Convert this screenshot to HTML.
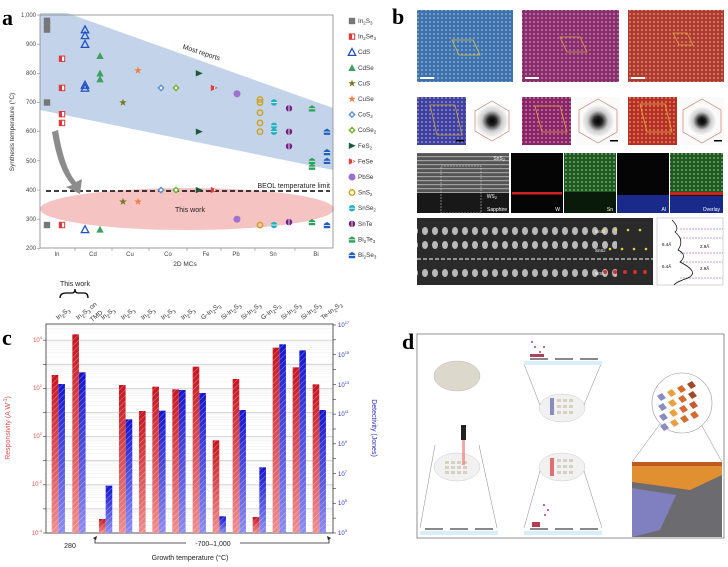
<!DOCTYPE html>
<html><head><meta charset="utf-8"><style>
body{margin:0;background:#fff;width:728px;height:567px;overflow:hidden}
svg{display:block;font-family:"Liberation Sans",sans-serif}
</style></head><body>
<svg id="s" width="728" height="567" viewBox="0 0 728 567" xmlns="http://www.w3.org/2000/svg">
<defs>
<pattern id="hr" width="4" height="4" patternUnits="userSpaceOnUse" patternTransform="rotate(45)"><rect width="4" height="4" fill="none"/><line x1="0" y1="0" x2="0" y2="4" stroke="#fff" stroke-opacity=".45" stroke-width="1"/></pattern>
<linearGradient id="rg" x1="0" y1="0" x2="0" y2="1"><stop offset="0" stop-color="#c8141e"/><stop offset="1" stop-color="#f08c8c"/></linearGradient>
<linearGradient id="bg" x1="0" y1="0" x2="0" y2="1"><stop offset="0" stop-color="#1414d0"/><stop offset="1" stop-color="#8c8cf0"/></linearGradient>
<radialGradient id="fft"><stop offset="0" stop-color="#000"/><stop offset=".25" stop-color="#222"/><stop offset=".6" stop-color="#ccc"/><stop offset="1" stop-color="#fff"/></radialGradient>
<pattern id="dots" width="4" height="4" patternUnits="userSpaceOnUse"><circle cx="2" cy="2" r="0.9" fill="#fff" fill-opacity=".5"/></pattern>
<pattern id="lines" width="4" height="4" patternUnits="userSpaceOnUse"><rect width="4" height="1.2" fill="#ddd" fill-opacity=".55"/></pattern>
<pattern id="col" width="10" height="14" patternUnits="userSpaceOnUse"><ellipse cx="5" cy="7" rx="3" ry="4" fill="#ddd" fill-opacity=".8"/></pattern>
</defs>

<!-- Panel a -->
<text x="2" y="25" font-family="Liberation Serif" font-weight="bold" font-size="22">a</text>
<polygon points="40,13 67,13 333,108 333,170 40,110" fill="#b8cde6" opacity=".85"/>
<ellipse cx="187" cy="209" rx="147" ry="21" fill="#f5b8b8" opacity=".85"/>
<rect x="40" y="15" width="293" height="233" fill="none" stroke="#888" stroke-width="0.8"/>
<line x1="46" y1="191" x2="330" y2="191" stroke="#000" stroke-width="1.5" stroke-dasharray="5,3"/>
<text x="330" y="188" font-size="7" text-anchor="end" fill="#222">BEOL temperature limit</text>
<text x="180" y="53" font-size="7" fill="#222" transform="rotate(18 195 58)">Most reports</text>
<text x="190" y="212" font-size="7" text-anchor="middle" fill="#222">This work</text>
<path d="M52,132 Q58,170 72,185 L66,187 L80,194 L82,179 L76,182 Q64,168 58,130 Z" fill="#8c8c8c"/>
<g font-size="6" fill="#444" text-anchor="end" id="ayt"></g>
<g font-size="6" fill="#444" text-anchor="middle">
<text x="57" y="256">In</text><text x="93" y="256">Cd</text><text x="130" y="256">Cu</text><text x="168" y="256">Co</text><text x="206" y="256">Fe</text><text x="236" y="256">Pb</text><text x="273" y="256">Sn</text><text x="316" y="256">Bi</text>
</g>
<text x="185" y="266" font-size="6.5" text-anchor="middle" fill="#333">2D MCs</text>
<text x="14" y="132" font-size="6.5" text-anchor="middle" fill="#333" transform="rotate(-90 14 132)">Synthesis temperature (°C)</text>
<g id="apts"></g>
<g font-size="6.3" fill="#333" id="leg">
<text x="358" y="23">In<tspan font-size="4.5" dy="1.5">2</tspan><tspan dy="-1.5">S</tspan><tspan font-size="4.5" dy="1.5">3</tspan></text>
<text x="358" y="38.6">In<tspan font-size="4.5" dy="1.5">2</tspan><tspan dy="-1.5">Se</tspan><tspan font-size="4.5" dy="1.5">3</tspan></text>
<text x="358" y="54.2">CdS</text>
<text x="358" y="69.8">CdSe</text>
<text x="358" y="85.4">CuS</text>
<text x="358" y="101">CuSe</text>
<text x="358" y="116.6">CoS<tspan font-size="4.5" dy="1.5">2</tspan></text>
<text x="358" y="132.2">CoSe<tspan font-size="4.5" dy="1.5">2</tspan></text>
<text x="358" y="147.8">FeS<tspan font-size="4.5" dy="1.5">2</tspan></text>
<text x="358" y="163.4">FeSe</text>
<text x="358" y="179">PbSe</text>
<text x="358" y="194.6">SnS<tspan font-size="4.5" dy="1.5">2</tspan></text>
<text x="358" y="210.2">SnSe<tspan font-size="4.5" dy="1.5">2</tspan></text>
<text x="358" y="225.8">SnTe</text>
<text x="358" y="241.4">Bi<tspan font-size="4.5" dy="1.5">2</tspan><tspan dy="-1.5">Te</tspan><tspan font-size="4.5" dy="1.5">3</tspan></text>
<text x="358" y="257">Bi<tspan font-size="4.5" dy="1.5">2</tspan><tspan dy="-1.5">Se</tspan><tspan font-size="4.5" dy="1.5">3</tspan></text>
</g>

<!-- Panel c -->
<text x="2" y="345" font-family="Liberation Serif" font-weight="bold" font-size="22">c</text>
<text x="75" y="286" font-size="7" text-anchor="middle" fill="#222">This work</text>
<path d="M60,298 Q60,293 66,293 L72,293 Q75,293 75,289 Q75,293 78,293 L84,293 Q88,293 88,298" fill="none" stroke="#000" stroke-width="1.3"/>
<g id="cgrid"></g>
<rect x="46" y="324" width="287" height="209" fill="none" stroke="#333" stroke-width="0.8"/>
<g id="cbars"></g>
<g font-size="6.5" fill="#333" id="ctop">
<text transform="translate(58,320) rotate(-38)">In<tspan font-size="5" dy="2">2</tspan><tspan dy="-2">S</tspan><tspan font-size="5" dy="2">3</tspan></text>
<text transform="translate(78,320) rotate(-38)">In<tspan font-size="5" dy="2">2</tspan><tspan dy="-2">S</tspan><tspan font-size="5" dy="2">3</tspan><tspan dy="-2"> on</tspan></text>
<text transform="translate(92,322) rotate(-38)">TMD</text>
<text transform="translate(103,320) rotate(-38)">In<tspan font-size="5" dy="2">2</tspan><tspan dy="-2">S</tspan><tspan font-size="5" dy="2">3</tspan></text>
<text transform="translate(123,320) rotate(-38)">In<tspan font-size="5" dy="2">2</tspan><tspan dy="-2">S</tspan><tspan font-size="5" dy="2">3</tspan></text>
<text transform="translate(143,320) rotate(-38)">In<tspan font-size="5" dy="2">2</tspan><tspan dy="-2">S</tspan><tspan font-size="5" dy="2">3</tspan></text>
<text transform="translate(163,320) rotate(-38)">In<tspan font-size="5" dy="2">2</tspan><tspan dy="-2">S</tspan><tspan font-size="5" dy="2">3</tspan></text>
<text transform="translate(183,320) rotate(-38)">In<tspan font-size="5" dy="2">2</tspan><tspan dy="-2">S</tspan><tspan font-size="5" dy="2">3</tspan></text>
<text transform="translate(203,320) rotate(-38)">G-In<tspan font-size="5" dy="2">2</tspan><tspan dy="-2">S</tspan><tspan font-size="5" dy="2">3</tspan></text>
<text transform="translate(223,320) rotate(-38)">Si-In<tspan font-size="5" dy="2">2</tspan><tspan dy="-2">S</tspan><tspan font-size="5" dy="2">3</tspan></text>
<text transform="translate(243,320) rotate(-38)">Si-In<tspan font-size="5" dy="2">2</tspan><tspan dy="-2">S</tspan><tspan font-size="5" dy="2">3</tspan></text>
<text transform="translate(263,320) rotate(-38)">G-In<tspan font-size="5" dy="2">2</tspan><tspan dy="-2">S</tspan><tspan font-size="5" dy="2">3</tspan></text>
<text transform="translate(283,320) rotate(-38)">Si-In<tspan font-size="5" dy="2">2</tspan><tspan dy="-2">S</tspan><tspan font-size="5" dy="2">3</tspan></text>
<text transform="translate(303,320) rotate(-38)">Si-In<tspan font-size="5" dy="2">2</tspan><tspan dy="-2">S</tspan><tspan font-size="5" dy="2">3</tspan></text>
<text transform="translate(323,320) rotate(-38)">Te-In<tspan font-size="5" dy="2">2</tspan><tspan dy="-2">S</tspan><tspan font-size="5" dy="2">3</tspan></text>
</g>
<g font-size="6" fill="#e05050" text-anchor="end">
<text x="42" y="342">10<tspan font-size="4" dy="-3">4</tspan></text>
<text x="42" y="390">10<tspan font-size="4" dy="-3">2</tspan></text>
<text x="42" y="438">10<tspan font-size="4" dy="-3">0</tspan></text>
<text x="42" y="486">10<tspan font-size="4" dy="-3">-2</tspan></text>
<text x="42" y="535">10<tspan font-size="4" dy="-3">-4</tspan></text>
</g>
<g font-size="6" fill="#3030c0">
<text x="338" y="327">10<tspan font-size="4" dy="-3">17</tspan></text>
<text x="338" y="357">10<tspan font-size="4" dy="-3">15</tspan></text>
<text x="338" y="387">10<tspan font-size="4" dy="-3">13</tspan></text>
<text x="338" y="416">10<tspan font-size="4" dy="-3">11</tspan></text>
<text x="338" y="446">10<tspan font-size="4" dy="-3">9</tspan></text>
<text x="338" y="476">10<tspan font-size="4" dy="-3">7</tspan></text>
<text x="338" y="505">10<tspan font-size="4" dy="-3">5</tspan></text>
<text x="338" y="535">10<tspan font-size="4" dy="-3">3</tspan></text>
</g>
<text x="10" y="428" font-size="7" fill="#e05050" text-anchor="middle" transform="rotate(-90 10 428)">Responsivity (A W<tspan font-size="5" dy="-3">-1</tspan><tspan dy="3">)</tspan></text>
<text x="372" y="428" font-size="7" fill="#3030c0" text-anchor="middle" transform="rotate(90 372 428)">Detectivity (Jones)</text>
<text x="70" y="548" font-size="7" text-anchor="middle" fill="#222">280</text>
<path d="M95,539 L95,543 L186,543 M240,543 L329,543 L329,539" fill="none" stroke="#222" stroke-width="0.8"/>
<path d="M93,538 L97,536 L96,540Z M331,538 L327,536 L328,540Z" fill="#222"/>
<text x="213" y="546" font-size="7" text-anchor="middle" fill="#222">-700–1,000</text>
<text x="190" y="560" font-size="7" text-anchor="middle" fill="#222">Growth temperature (°C)</text>

<!-- Panel b -->
<text x="392" y="24" font-family="Liberation Serif" font-weight="bold" font-size="22">b</text>
<rect x="417" y="10" width="96" height="72" fill="#3d72ae"/><rect x="417" y="10" width="96" height="72" fill="url(#dots)"/>
<rect x="522" y="10" width="97" height="72" fill="#8a2d6c"/><rect x="522" y="10" width="97" height="72" fill="url(#dots)"/>
<rect x="628" y="10" width="96" height="72" fill="#b03a2c"/><rect x="628" y="10" width="96" height="72" fill="url(#dots)"/>
<polygon points="452,40 473,40 480,55 459,55" fill="none" stroke="#d8c040" stroke-width="0.8"/>
<polygon points="560,37 580,37 587,52 567,52" fill="none" stroke="#d8a040" stroke-width="0.8"/>
<polygon points="673,33 687,33 693,45 679,45" fill="none" stroke="#e0a040" stroke-width="0.8"/>
<rect x="420" y="77" width="14" height="2" fill="#fff"/><rect x="525" y="77" width="14" height="2" fill="#fff"/><rect x="631" y="77" width="14" height="2" fill="#fff"/>
<rect x="417" y="97" width="49" height="48" fill="#4040a0"/><rect x="417" y="97" width="49" height="48" fill="url(#dots)"/>
<rect x="522" y="97" width="49" height="48" fill="#8a2466"/><rect x="522" y="97" width="49" height="48" fill="url(#dots)"/>
<rect x="628" y="97" width="49" height="48" fill="#b83020"/><rect x="628" y="97" width="49" height="48" fill="url(#dots)"/>
<polygon points="430,105 455,105 462,135 437,135" fill="none" stroke="#c8a040" stroke-width="0.8"/>
<polygon points="535,106 560,106 567,132 542,132" fill="none" stroke="#e0a040" stroke-width="0.8"/>
<polygon points="640,104 665,104 672,132 647,132" fill="none" stroke="#e8b040" stroke-width="0.8"/>
<rect x="470" y="97" width="44" height="48" fill="#fff"/><circle cx="492" cy="121" r="17" fill="url(#fft)"/>
<polygon points="492,101 509,111 509,131 492,141 475,131 475,111" fill="none" stroke="#c8806a" stroke-width="0.7"/>
<rect x="576" y="97" width="44" height="48" fill="#fafafa"/><circle cx="598" cy="121" r="17" fill="url(#fft)"/>
<polygon points="598,99 617,110 617,132 598,143 579,132 579,110" fill="none" stroke="#c8806a" stroke-width="0.7"/>
<rect x="680" y="97" width="44" height="48" fill="#fafafa"/><circle cx="702" cy="121" r="15" fill="url(#fft)"/>
<polygon points="702,99 721,110 721,132 702,143 683,132 683,110" fill="none" stroke="#c8806a" stroke-width="0.7"/>
<rect x="456" y="140" width="8" height="1.5" fill="#000"/><rect x="610" y="140" width="8" height="1.5" fill="#000"/><rect x="714" y="140" width="8" height="1.5" fill="#000"/>
<rect x="417" y="153" width="92" height="60" fill="#555"/><rect x="417" y="153" width="92" height="40" fill="url(#lines)"/><rect x="417" y="193" width="92" height="20" fill="#181818"/>
<rect x="441" y="166" width="40" height="47" fill="none" stroke="#ddd" stroke-width="0.5" stroke-dasharray="2,1"/>
<text x="505" y="160" font-size="5" fill="#fff" text-anchor="end">SnS<tspan font-size="4" dy="1">2</tspan></text>
<text x="497" y="198" font-size="5" fill="#fff" text-anchor="end">WS<tspan font-size="4" dy="1">2</tspan></text>
<text x="507" y="211" font-size="5" fill="#fff" text-anchor="end">Sapphire</text>
<rect x="511" y="153" width="52" height="60" fill="#050505"/><rect x="512" y="192" width="50" height="2.5" fill="#d02020"/><text x="560" y="211" font-size="5" fill="#fff" text-anchor="end">W</text>
<rect x="564" y="153" width="52" height="60" fill="#0a1a0a"/><rect x="564" y="153" width="52" height="39" fill="#1d5a1d"/><rect x="564" y="153" width="52" height="39" fill="url(#dots)"/><text x="613" y="211" font-size="5" fill="#fff" text-anchor="end">Sn</text>
<rect x="617" y="153" width="52" height="60" fill="#050505"/><rect x="617" y="195" width="52" height="18" fill="#1a2a8a"/><text x="666" y="211" font-size="5" fill="#fff" text-anchor="end">Al</text>
<rect x="670" y="153" width="53" height="60" fill="#0a1a0a"/><rect x="670" y="153" width="53" height="39" fill="#1d5a1d"/><rect x="670" y="153" width="53" height="39" fill="url(#dots)"/><rect x="670" y="192" width="53" height="3" fill="#d02020"/><rect x="670" y="196" width="53" height="17" fill="#1a2a8a"/><text x="720" y="211" font-size="5" fill="#fff" text-anchor="end">Overlay</text>
<rect x="417" y="218" width="236" height="67" fill="#2a2a2a"/>
<rect x="417" y="222" width="200" height="14" fill="url(#col)"/><rect x="417" y="241" width="200" height="14" fill="url(#col)"/><rect x="417" y="264" width="200" height="16" fill="url(#col)"/>
<line x1="417" y1="259" x2="653" y2="259" stroke="#fff" stroke-width="1" stroke-dasharray="4,2"/>
<g fill="#e0d040"><circle cx="604" cy="230" r="1.3"/><circle cx="616" cy="230" r="1.3"/><circle cx="628" cy="230" r="1.3"/><circle cx="640" cy="230" r="1.3"/><circle cx="610" cy="249" r="1.3"/><circle cx="622" cy="249" r="1.3"/><circle cx="634" cy="249" r="1.3"/><circle cx="646" cy="249" r="1.3"/></g>
<g fill="#d03030"><circle cx="605" cy="272" r="2"/><circle cx="615" cy="272" r="2"/><circle cx="625" cy="272" r="2"/><circle cx="635" cy="272" r="2"/><circle cx="645" cy="272" r="2"/></g>
<text x="595" y="233" font-size="4.5" fill="#fff">SnS<tspan font-size="3.5">2</tspan></text><text x="595" y="252" font-size="4.5" fill="#fff">SnS<tspan font-size="3.5">2</tspan></text><text x="595" y="275" font-size="4.5" fill="#fff">WS<tspan font-size="3.5">2</tspan></text>
<rect x="657" y="218" width="66" height="67" fill="#fff" stroke="#aaa" stroke-width="0.5"/>
<g stroke="#9040c0" stroke-width="0.6" stroke-dasharray="2,1"><line x1="680" y1="229" x2="723" y2="229"/><line x1="680" y1="238" x2="723" y2="238"/><line x1="680" y1="253" x2="723" y2="253"/><line x1="680" y1="262" x2="723" y2="262"/><line x1="680" y1="278" x2="723" y2="278"/></g>
<path d="M672,220 Q680,228 675,232 Q685,240 678,250 Q688,255 680,262 Q700,272 688,278 Q676,282 674,285" fill="none" stroke="#000" stroke-width="0.7"/>
<text x="662" y="246" font-size="4.5">6.4Å</text><text x="662" y="268" font-size="4.5">6.4Å</text><text x="700" y="248" font-size="4.5">2.9Å</text><text x="700" y="270" font-size="4.5">2.9Å</text>

<!-- Panel d -->
<text x="402" y="349" font-family="Liberation Serif" font-weight="bold" font-size="22">d</text>
<rect x="417" y="334" width="307" height="204" fill="#fff" stroke="#777" stroke-width="0.8"/>
<ellipse cx="457" cy="376" rx="23" ry="15" fill="#dcd8cc" stroke="#bbb" stroke-width="0.5"/>
<line x1="435" y1="445" x2="420" y2="528" stroke="#666" stroke-width="0.4"/><line x1="479" y1="445" x2="497" y2="528" stroke="#666" stroke-width="0.4"/>
<ellipse cx="457" cy="467" rx="23" ry="14" fill="#f1f1f1" stroke="#ccc" stroke-width="0.5"/>
<g fill="#d8d0c0"><rect x="445" y="461" width="4" height="3"/><rect x="451" y="461" width="4" height="3"/><rect x="457" y="461" width="4" height="3"/><rect x="463" y="461" width="4" height="3"/><rect x="445" y="466" width="4" height="3"/><rect x="451" y="466" width="4" height="3"/><rect x="457" y="466" width="4" height="3"/><rect x="463" y="466" width="4" height="3"/><rect x="445" y="471" width="4" height="3"/><rect x="451" y="471" width="4" height="3"/><rect x="457" y="471" width="4" height="3"/><rect x="463" y="471" width="4" height="3"/></g>
<rect x="462" y="425" width="3" height="40" fill="#f08080" opacity=".7"/><rect x="461" y="425" width="5" height="15" fill="#222"/>
<rect x="420" y="531" width="78" height="4" fill="#d8eef8"/><g fill="#888"><rect x="425" y="528" width="18" height="2"/><rect x="450" y="528" width="18" height="2"/><rect x="475" y="528" width="18" height="2"/></g>
<ellipse cx="562" cy="408" rx="23" ry="14" fill="#f1f1f1" stroke="#ccc" stroke-width="0.5"/>
<line x1="524" y1="364" x2="540" y2="405" stroke="#666" stroke-width="0.4"/><line x1="601" y1="364" x2="584" y2="405" stroke="#666" stroke-width="0.4"/>
<rect x="524" y="361" width="78" height="4" fill="#d8eef8"/><g fill="#888"><rect x="530" y="358" width="18" height="2"/><rect x="555" y="358" width="18" height="2"/><rect x="580" y="358" width="18" height="2"/></g>
<g fill="#b04060"><circle cx="532" cy="342" r="1"/><circle cx="535" cy="347" r="1"/><circle cx="540" cy="352" r="1"/><circle cx="544" cy="347" r="1"/><rect x="530" y="354" width="14" height="3"/></g>
<g fill="#d8d0c0"><rect x="557" y="399" width="4" height="3"/><rect x="563" y="399" width="4" height="3"/><rect x="569" y="399" width="4" height="3"/><rect x="557" y="405" width="4" height="3"/><rect x="563" y="405" width="4" height="3"/><rect x="569" y="405" width="4" height="3"/><rect x="557" y="411" width="4" height="3"/><rect x="563" y="411" width="4" height="3"/><rect x="569" y="411" width="4" height="3"/></g>
<rect x="550" y="398" width="4" height="17" fill="#8a8cc0"/>
<ellipse cx="562" cy="467" rx="23" ry="14" fill="#f1f1f1" stroke="#ccc" stroke-width="0.5"/>
<g fill="#d8d0c0"><rect x="557" y="459" width="4" height="3"/><rect x="563" y="459" width="4" height="3"/><rect x="569" y="459" width="4" height="3"/><rect x="557" y="465" width="4" height="3"/><rect x="563" y="465" width="4" height="3"/><rect x="569" y="465" width="4" height="3"/><rect x="557" y="471" width="4" height="3"/><rect x="563" y="471" width="4" height="3"/><rect x="569" y="471" width="4" height="3"/></g>
<rect x="550" y="458" width="4" height="18" fill="#e07070"/>
<line x1="540" y1="471" x2="524" y2="528" stroke="#666" stroke-width="0.4"/><line x1="584" y1="471" x2="602" y2="528" stroke="#666" stroke-width="0.4"/>
<rect x="524" y="531" width="78" height="4" fill="#d8eef8"/><g fill="#888"><rect x="530" y="528" width="18" height="2"/><rect x="555" y="528" width="18" height="2"/><rect x="580" y="528" width="18" height="2"/></g>
<rect x="532" y="522" width="8" height="5" fill="#b04050"/><g fill="#b04060"><circle cx="544" cy="505" r="1"/><circle cx="548" cy="510" r="1"/><circle cx="545" cy="515" r="1"/></g>
<circle cx="682" cy="403" r="30" fill="#fff" stroke="#999" stroke-width="0.6"/>
<g id="dgrid"></g>
<line x1="660" y1="424" x2="632" y2="462" stroke="#666" stroke-width="0.4"/><line x1="702" y1="426" x2="722" y2="462" stroke="#666" stroke-width="0.4"/>
<polygon points="632,462 722,462 722,537 632,537" fill="#6c6c70"/>
<polygon points="632,462 722,462 722,475 690,490 632,482" fill="#e09030"/>
<polygon points="632,488 676,495 660,530 632,537" fill="#8080c0"/>
<polygon points="632,462 722,462 722,466 632,466" fill="#c05a20"/>
</svg>
<script>
(function(){
var NS="http://www.w3.org/2000/svg";
function el(p,t,a){var e=document.createElementNS(NS,t);for(var k in a)e.setAttribute(k,a[k]);p.appendChild(e);return e;}
var s=document.getElementById('s');
// panel a ticks
var ay=function(v){return 15+(1000-v)*0.2917;};
var ag=document.getElementById('ayt');
for(var v=200;v<=1000;v+=100){el(s,'line',{x1:37,x2:40,y1:ay(v),y2:ay(v),stroke:'#888','stroke-width':.6});}
[75,112,149,187,221,255,295].forEach(function(x){el(s,'line',{x1:x,x2:x,y1:248,y2:251,stroke:'#888','stroke-width':.6});});
// markers
function mk(g,type,col,x,y){
 var r=3.2;
 if(type=='sq')el(g,'rect',{x:x-r,y:y-r,width:2*r,height:2*r,fill:col});
 else if(type=='hsq'){el(g,'rect',{x:x-r,y:y-r,width:2*r,height:2*r,fill:col});el(g,'rect',{x:x,y:y-r+1,width:r-1,height:2*r-2,fill:'#fff'});}
 else if(type=='tri')el(g,'polygon',{points:(x)+','+(y-r-.5)+' '+(x+r+.5)+','+(y+r)+' '+(x-r-.5)+','+(y+r),fill:'none',stroke:col,'stroke-width':1.3});
 else if(type=='ftri')el(g,'polygon',{points:(x)+','+(y-r-.5)+' '+(x+r+.5)+','+(y+r)+' '+(x-r-.5)+','+(y+r),fill:col});
 else if(type=='star'){var p=[];for(var i=0;i<10;i++){var a=-Math.PI/2+i*Math.PI/5,rr=i%2?1.6:4;p.push((x+rr*Math.cos(a)).toFixed(1)+','+(y+rr*Math.sin(a)).toFixed(1));}el(g,'polygon',{points:p.join(' '),fill:col});}
 else if(type=='dia'){el(g,'polygon',{points:x+','+(y-r-.5)+' '+(x+r+.5)+','+y+' '+x+','+(y+r+.5)+' '+(x-r-.5)+','+y,fill:col});el(g,'rect',{x:x-1.2,y:y-1.2,width:2.4,height:2.4,fill:'#fff'});}
 else if(type=='rtri')el(g,'polygon',{points:(x-r)+','+(y-r)+' '+(x+r+.5)+','+y+' '+(x-r)+','+(y+r),fill:col});
 else if(type=='hrtri'){el(g,'polygon',{points:(x-r)+','+(y-r)+' '+(x+r+.5)+','+y+' '+(x-r)+','+(y+r),fill:col});el(g,'polygon',{points:(x)+','+(y-1.5)+' '+(x+2)+','+y+' '+(x)+','+(y+1.5),fill:'#fff'});}
 else if(type=='cir')el(g,'circle',{cx:x,cy:y,r:r+.3,fill:col});
 else if(type=='ring')el(g,'circle',{cx:x,cy:y,r:r-.5,fill:'none',stroke:col,'stroke-width':1.5});
 else if(type=='hc'){el(g,'circle',{cx:x,cy:y,r:r,fill:col});el(g,'rect',{x:x-r,y:y-.4,width:2*r,height:.8,fill:'#fff'});}
 else if(type=='hcv'){el(g,'circle',{cx:x,cy:y,r:r,fill:col});el(g,'rect',{x:x-.4,y:y-r,width:.8,height:2*r,fill:'#fff'});}
 else if(type=='pent'){el(g,'polygon',{points:(x-r)+','+(y-1)+' '+x+','+(y-r)+' '+(x+r)+','+(y-1)+' '+(x+r)+','+(y+r)+' '+(x-r)+','+(y+r),fill:col});el(g,'rect',{x:x-r,y:y,width:2*r,height:.8,fill:'#fff'});}
}
var S=[['sq','#777',47,[980,965,950,700,280]],['hsq','#e03838',62,[850,750,660,630,280]],['tri','#2050c0',85,[950,930,900,760,750,265]],['ftri','#40a060',100,[860,800,780,265]],['star','#7a7a20',123,[700,360]],['star','#f08040',138,[810,360]],['dia','#6090d0',161,[750,400]],['dia','#70b030',176,[750,400]],['rtri','#1a5a3a',199,[800,600,400]],['hrtri','#e04040',214,[750,400]],['cir','#a070d0',237,[730,300]],['ring','#d0a020',260,[710,700,665,630,600,280]],['hc','#20b0c0',274,[700,620,600,280]],['hcv','#702080',289,[680,600,550,290]],['pent','#30a060',312,[680,500,480,290]],['pent','#2060c0',327,[600,530,500,280]]];
var ap=document.getElementById('apts');
S.forEach(function(d,i){d[3].forEach(function(v){mk(ap,d[0],d[1],d[2],ay(v));});mk(ap,d[0],d[1],352,21+i*15.6);});
// panel c
var cg=document.getElementById('cgrid');
for(var k=0;k<=8;k++){var y=533-k*24.1;el(cg,'line',{x1:46,x2:333,y1:y,y2:y,stroke:'#ccc','stroke-width':.8});
 for(var m=2;m<10;m++){var yy=y-Math.log10(m)*24.1;if(yy>324)el(cg,'line',{x1:46,x2:333,y1:yy,y2:yy,stroke:'#eee','stroke-width':.5});}
 el(cg,'line',{x1:43,x2:46,y1:y,y2:y,stroke:'#333','stroke-width':.6});}
for(var k=0;k<=14;k++){var y=533-k*14.86;el(cg,'line',{x1:333,x2:336,y1:y,y2:y,stroke:'#333','stroke-width':.6});}
var B=[[155,285,175,312],[217,163,237,277],[297,717,317,617],[357,315,377,418],[417,393,0,0],[457,320,477,392],[517,328,537,330],[578,260,598,339],[638,481,658,709],[698,297,718,390],[758,711,778,562],[818,203,838,193],[878,262,898,211],[938,313,958,390]];
var cb=document.getElementById('cbars');
B.forEach(function(b){
 var x=b[0]/3,y=280+b[1]/3;el(cb,'rect',{x:x,y:y,width:6.6,height:533-y,fill:'url(#rg)'});el(cb,'rect',{x:x,y:y,width:6.6,height:533-y,fill:'url(#hr)'});
 if(b[2]){x=b[2]/3;y=280+b[3]/3;el(cb,'rect',{x:x,y:y,width:6.6,height:533-y,fill:'url(#bg)'});el(cb,'rect',{x:x,y:y,width:6.6,height:533-y,fill:'url(#hr)'});}
});
// panel d grid
var dg=document.getElementById('dgrid');
var cols=[['#8a8cc0','#e8a040','#d86a30','#a04a2a'],['#8a8cc0','#e8a040','#d86a30','#a04a2a'],['#8a8cc0','#e8a040','#d86a30','#c85a30'],['#8a8cc0','#e8a040','#d07030','#d86a30']];
for(var r=0;r<4;r++)for(var c=0;c<4;c++){var cx=657+c*10+r*1,cy=396-c*4+r*10;el(dg,'polygon',{points:cx+','+cy+' '+(cx+5)+','+(cy-3)+' '+(cx+9)+','+(cy+2)+' '+(cx+4)+','+(cy+5),fill:cols[r][c]});}
})();
</script>
<!-- axis tick labels panel a -->
<svg width="0" height="0"></svg>
<div style="position:absolute;left:0;top:0;width:0;height:0"></div>
<svg style="position:absolute;left:0;top:0" width="40" height="260" font-family="Liberation Sans" font-size="6" fill="#444">
<text x="36" y="17" text-anchor="end">1,000</text>
<text x="36" y="46" text-anchor="end">900</text>
<text x="36" y="75" text-anchor="end">800</text>
<text x="36" y="104" text-anchor="end">700</text>
<text x="36" y="133" text-anchor="end">600</text>
<text x="36" y="163" text-anchor="end">500</text>
<text x="36" y="192" text-anchor="end">400</text>
<text x="36" y="221" text-anchor="end">300</text>
<text x="36" y="250" text-anchor="end">200</text>
</svg>
</body></html>
